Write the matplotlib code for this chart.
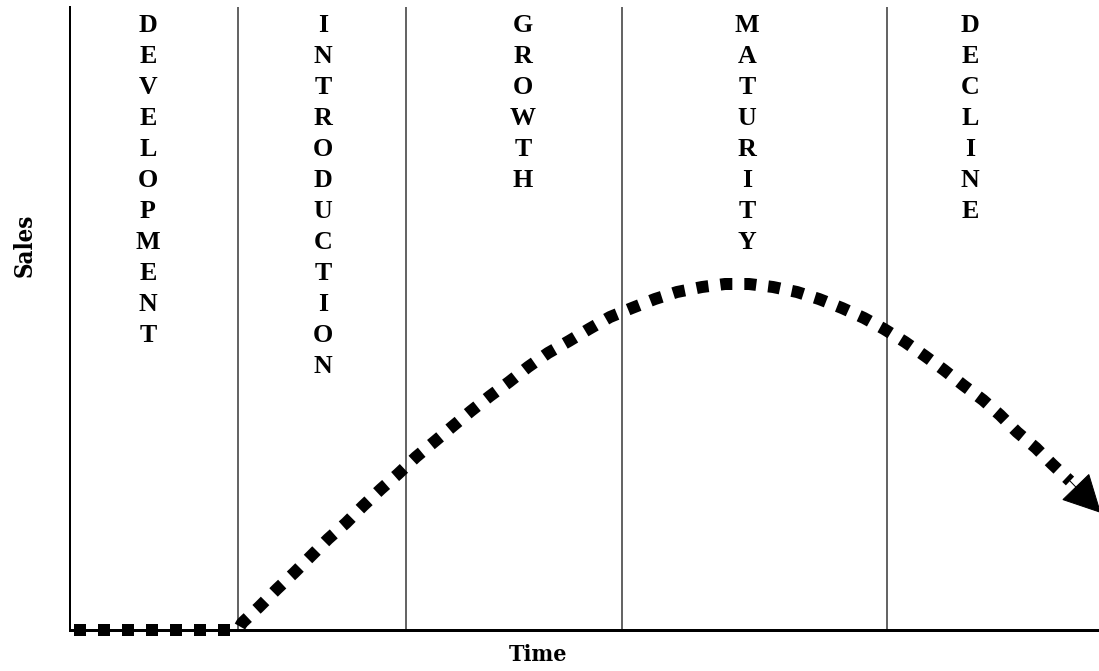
import matplotlib
matplotlib.use("Agg")
import matplotlib.pyplot as plt
import matplotlib.transforms as mtransforms

# ---- data (time / sales in arbitrary units) ----
stages = ["DEVELOPMENT", "INTRODUCTION", "GROWTH", "MATURITY", "DECLINE"]
stage_bounds = [168, 336, 552, 817]          # vertical dividers on the time axis
label_x = [78, 253, 453, 677, 900]           # centre of each stage label

flat_time = [4, 168]
flat_sales = [0, 0]

curve_time = [168, 172, 189, 207, 224, 241, 258, 276, 293, 311, 328, 346, 364,
              383, 401, 420, 439, 458, 478, 499, 519, 540, 562, 585, 607, 632,
              655, 679, 703, 727, 749, 772, 794, 814, 835, 855, 874, 893, 913,
              930, 947, 966, 982, 1000]
curve_sales = [0, 7, 23, 41, 57, 74, 91, 107, 124, 141, 156, 173, 188,
               204, 219, 234, 248, 263, 277, 289, 301, 313, 322, 331, 338, 343,
               346, 346, 343, 338, 331, 322, 312, 301, 288, 274, 260, 245, 230,
               215, 198, 182, 166, 149]
arrow_tip = (1031, 117)

x_label = "Time"
y_label = "Sales"

# ---- figure ----
W, H, DPI = 1099, 671, 72
fig = plt.figure(figsize=(W / DPI, H / DPI), dpi=DPI)
ax = fig.add_axes([70 / W, (H - 630) / H, 1029 / W, 623 / H])
ax.set_xlim(0, 1029)
ax.set_ylim(0, 623)

for s in ["top", "right"]:
    ax.spines[s].set_visible(False)
ax.spines["left"].set_linewidth(2)
ax.spines["bottom"].set_linewidth(3)
ax.spines["left"].set_color("black")
ax.spines["bottom"].set_color("black")
ax.set_xticks([])
ax.set_yticks([])

for b in stage_bounds:
    ax.axvline(b, color="#333333", lw=1.5, zorder=1)

ax.plot(flat_time + curve_time[1:], flat_sales + curve_sales[1:], color="black",
        lw=12, linestyle=(0, (1, 1)), dash_capstyle="butt", zorder=3,
        clip_on=False)

ax.annotate("", xy=arrow_tip, xytext=(curve_time[-1], curve_sales[-1]),
            arrowprops=dict(arrowstyle="-|>,head_length=1.4,head_width=0.72",
                            mutation_scale=25, color="black", lw=1,
                            joinstyle="miter", shrinkA=0, shrinkB=0),
            annotation_clip=False, zorder=4)

# stacked vertical letters
for name, lx in zip(stages, label_x):
    for i, ch in enumerate(name):
        tr = mtransforms.offset_copy(ax.transData, fig=fig, x=0,
                                     y=-31 * i, units="points")
        ax.text(lx, 616, ch, transform=tr, ha="center", va="top",
                fontsize=26, fontweight="bold", family="Liberation Serif",
                clip_on=False)

fig.text(538 / W, 1 - 655 / H, x_label, ha="center", va="center",
         fontsize=23, fontweight="heavy", family="DejaVu Serif",
         fontstretch="condensed")
fig.text(25 / W, 1 - 245 / H, y_label, ha="center", va="center", rotation=90,
         fontsize=24, fontweight="heavy", family="DejaVu Serif",
         fontstretch="condensed")

fig.savefig("out.png", dpi=DPI)
